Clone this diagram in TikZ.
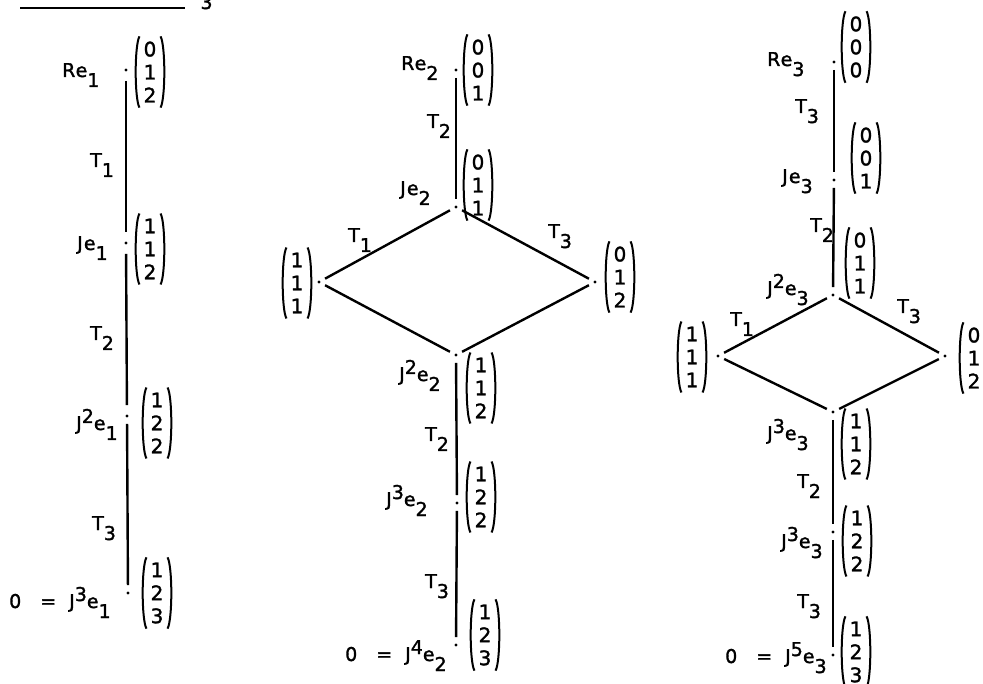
\documentclass[tikz,border=0pt]{standalone}
\usepackage{fontspec}
\newfontfamily\labfont[LetterSpace=6,FakeBold=1.5]{DejaVu Sans}
\newfontfamily\vecfont[FakeBold=1.5]{DejaVu Sans}
\newcommand\lsub[1]{\raisebox{-10pt}{#1}}
\newcommand\lsup[1]{\raisebox{7pt}{#1}}
\newcommand\zeq{0\hspace{19pt}=\hspace{13pt}}
\begin{document}
\begin{tikzpicture}[x=1pt,y=-1pt,
  dot/.style={circle,fill,inner sep=0pt,minimum size=3.4pt},
  conn/.style={line width=2.4pt, shorten <=#1, shorten >=#1},
  conn/.default=5pt,
  lab/.style={anchor=base west, inner sep=0pt, font=\labfont\fontsize{19}{20}\selectfont},
  parenl/.style={draw, line width=2pt, to path={.. controls +(-5,9) and +(-5,-9) .. (\tikztotarget)}},
  parenr/.style={draw, line width=2pt, to path={.. controls +(5,9) and +(5,-9) .. (\tikztotarget)}},
  vec/.style={inner xsep=4pt, inner ysep=5pt, align=center,
    font=\vecfont\fontsize{20}{23}\selectfont,
    append after command={(\tikzlastnode.north west) edge[parenl] (\tikzlastnode.south west)
                          (\tikzlastnode.north east) edge[parenr] (\tikzlastnode.south east)}}]
\useasboundingbox (0,0) rectangle (983,684);
\clip (0,0) rectangle (983,684);
\fill[white] (0,0) rectangle (983,684);

% cut-off heading
\node[lab] (hdr) at (20,-1) {and\hspace{30pt}M\hspace{30pt}mod N\lsub{3}};
\draw[line width=1.2pt] (20,8) -- (185,8);

% ---------- column 1 ----------
\node[dot] (re1) at (126,70) {};
\node[dot] (je1) at (126,243) {};
\node[dot] (jj1) at (127,416) {};
\node[dot] (jjj1) at (128,593) {};
\draw[conn=9pt] (re1) -- (je1);
\draw[conn=9pt] (je1) -- (jj1);
\draw[conn=6pt] (jj1) -- (jjj1);

\node[lab] (lre1) at (62,77) {Re\lsub{1}};
\node[lab] (lt11) at (90,167) {T\lsub{1}};
\node[lab] (lje1) at (77,250) {Je\lsub{1}};
\node[lab] (lt21) at (90,340) {T\lsub{2}};
\node[lab] (ljj1) at (76,430) {J\lsup{2}e\lsub{1}};
\node[lab] (lt31) at (92,530) {T\lsub{3}};
\node[lab] (ljjj1) at (9,608) {\zeq J\lsup{3}e\lsub{1}};

\node[vec] (v11) at (150,72) {0\\1\\2};
\node[vec] (v12) at (150,249) {1\\1\\2};
\node[vec] (v13) at (157,423) {1\\2\\2};
\node[vec] (v14) at (157,593) {1\\2\\3};

% ---------- column 2 ----------
\node[dot] (re2) at (456,70) {};
\node[dot] (je2) at (456,207) {};
\node[dot] (l2) at (319,282) {};
\node[dot] (r2) at (595,282) {};
\node[dot] (jj2) at (456,355) {};
\node[dot] (jjj2) at (457,503) {};
\node[dot] (j42) at (456,645) {};
\draw[conn=6pt] (re2) -- (je2);
\draw[conn] (je2) -- (l2);
\draw[conn] (je2) -- (r2);
\draw[conn] (l2) -- (jj2);
\draw[conn] (r2) -- (jj2);
\draw[conn=6pt] (jj2) -- (jjj2);
\draw[conn=6pt] (jjj2) -- (j42);

\node[lab] (lre2) at (401,70) {Re\lsub{2}};
\node[lab] (lt22a) at (427,128) {T\lsub{2}};
\node[lab] (lje2) at (400,195) {Je\lsub{2}};
\node[lab] (lt12) at (348,242) {T\lsub{1}};
\node[lab] (lt32a) at (548,238) {T\lsub{3}};
\node[lab] (ljj2) at (399,381) {J\lsup{2}e\lsub{2}};
\node[lab] (lt22b) at (425,441) {T\lsub{2}};
\node[lab] (ljjj2) at (386,506) {J\lsup{3}e\lsub{2}};
\node[lab] (lt32b) at (425,588) {T\lsub{3}};
\node[lab] (lj42) at (345,661) {\zeq J\lsup{4}e\lsub{2}};

\node[vec] (v21) at (478,70) {0\\0\\1};
\node[vec] (v22) at (478,185) {0\\1\\1};
\node[vec] (v2l) at (297,283) {1\\1\\1};
\node[vec] (v2r) at (620,277) {0\\1\\2};
\node[vec] (v23) at (481,388) {1\\1\\2};
\node[vec] (v24) at (481,497) {1\\2\\2};
\node[vec] (v25) at (485,635) {1\\2\\3};

% ---------- column 3 ----------
\node[dot] (re3) at (834,62) {};
\node[dot] (je3) at (834,180) {};
\node[dot] (jj3) at (833,295) {};
\node[dot] (l3) at (718,356) {};
\node[dot] (r3) at (945,356) {};
\node[dot] (jjj3) at (833,412) {};
\node[dot] (j43) at (833,532) {};
\node[dot] (j53) at (833,655) {};
\draw[conn=6pt] (re3) -- (je3);
\draw[conn=6pt] (je3) -- (jj3);
\draw[conn] (jj3) -- (l3);
\draw[conn] (jj3) -- (r3);
\draw[conn] (l3) -- (jjj3);
\draw[conn] (r3) -- (jjj3);
\draw[conn=6pt] (jjj3) -- (j43);
\draw[conn=6pt] (j43) -- (j53);

\node[lab] (lre3) at (767,66) {Re\lsub{3}};
\node[lab] (lt33a) at (795,113) {T\lsub{3}};
\node[lab] (lje3) at (782,183) {Je\lsub{3}};
\node[lab] (lt23a) at (810,232) {T\lsub{2}};
\node[lab] (ljj3) at (767,295) {J\lsup{2}e\lsub{3}};
\node[lab] (lt13) at (730,326) {T\lsub{1}};
\node[lab] (lt33b) at (897,313) {T\lsub{3}};
\node[lab] (ljjj3) at (767,440) {J\lsup{3}e\lsub{3}};
\node[lab] (lt23b) at (797,488) {T\lsub{2}};
\node[lab] (lj43) at (781,548) {J\lsup{3}e\lsub{3}};
\node[lab] (lt33c) at (797,608) {T\lsub{3}};
\node[lab] (lj53) at (725,663) {\zeq J\lsup{5}e\lsub{3}};

\node[vec] (v31) at (856,47) {0\\0\\0};
\node[vec] (v32) at (866,158) {0\\0\\1};
\node[vec] (v33) at (860,263) {0\\1\\1};
\node[vec] (v3l) at (692,357) {1\\1\\1};
\node[vec] (v3r) at (974,358) {0\\1\\2};
\node[vec] (v34) at (856,444) {1\\1\\2};
\node[vec] (v35) at (857,541) {1\\2\\2};
\node[vec] (v36) at (856,652) {1\\2\\3};
\end{tikzpicture}
\end{document}
